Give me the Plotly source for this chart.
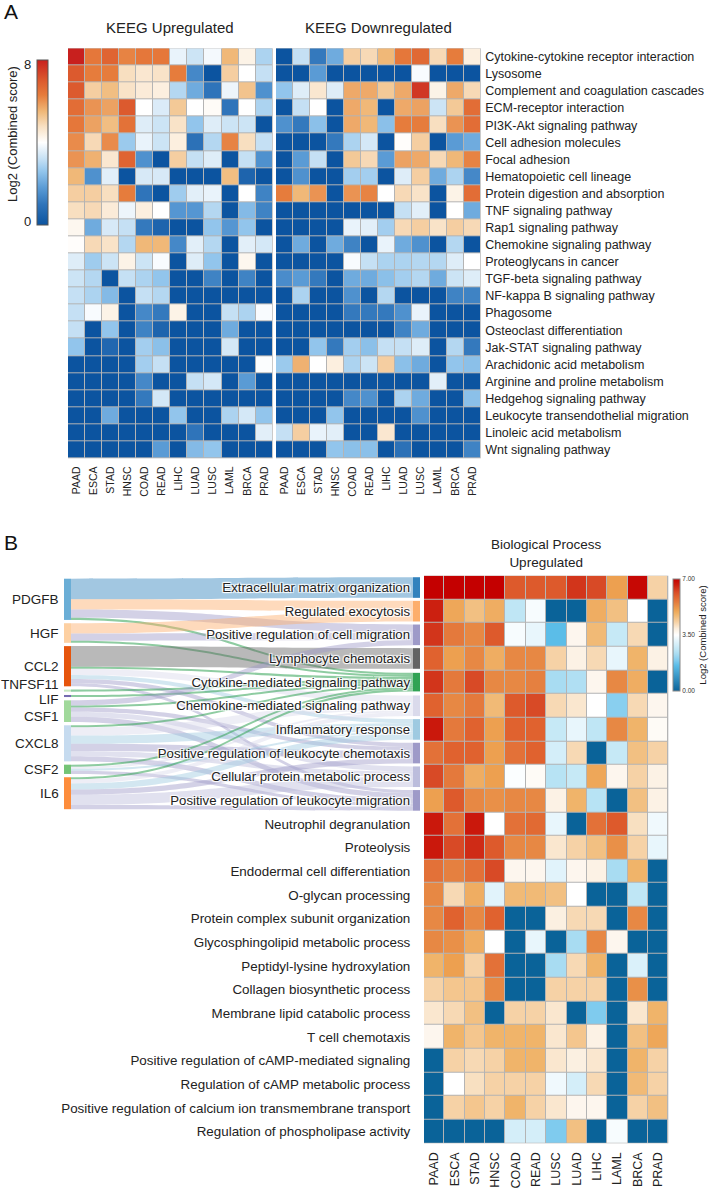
import plotly.graph_objects as go

# ---------------- data ----------------
cancers_A = ["PAAD", "ESCA", "STAD", "HNSC", "COAD", "READ", "LIHC", "LUAD", "LUSC", "LAML", "BRCA", "PRAD"]
pathways = [
    "Cytokine-cytokine receptor interaction", "Lysosome", "Complement and coagulation cascades",
    "ECM-receptor interaction", "PI3K-Akt signaling pathway", "Cell adhesion molecules",
    "Focal adhesion", "Hematopoietic cell lineage", "Protein digestion and absorption",
    "TNF signaling pathway", "Rap1 signaling pathway", "Chemokine signaling pathway",
    "Proteoglycans in cancer", "TGF-beta signaling pathway", "NF-kappa B signaling pathway",
    "Phagosome", "Osteoclast differentiation", "Jak-STAT signaling pathway",
    "Arachidonic acid metabolism", "Arginine and proline metabolism", "Hedgehog signaling pathway",
    "Leukocyte transendothelial migration", "Linoleic acid metabolism", "Wnt signaling pathway",
]
kegg_up = [
    [8.0, 6.4, 6.8, 6.2, 6.4, 6.4, 3.7, 3.3, 3.85, 5.5, 4.3, 2.9],
    [7.0, 6.3, 6.3, 4.8, 4.6, 4.7, 6.3, 1.4, 0, 5.1, 4.0, 3.2],
    [7.0, 5.1, 5.4, 4.7, 4.5, 4.4, 3.0, 2.1, 1.0, 3.75, 5.3, 1.6],
    [6.6, 6.0, 5.8, 7.0, 4.0, 3.5, 5.2, 4.0, 4.1, 1.0, 4.0, 2.9],
    [6.4, 5.8, 5.4, 6.5, 3.55, 3.3, 4.7, 2.6, 3.55, 3.3, 3.3, 0],
    [6.1, 4.9, 6.1, 2.7, 3.7, 3.3, 4.4, 0.9, 3.0, 6.2, 4.8, 3.2],
    [6.0, 5.6, 4.6, 6.8, 1.6, 0, 5.1, 3.2, 3.55, 0, 3.2, 1.6],
    [5.5, 1.6, 3.6, 0, 3.45, 3.45, 0, 0, 0, 5.4, 0.5, 0],
    [5.1, 5.1, 4.8, 6.3, 1.0, 0, 2.75, 3.6, 3.7, 0, 4.0, 1.3],
    [4.8, 4.9, 4.5, 3.75, 4.4, 4.0, 1.7, 1.7, 3.0, 0, 2.4, 1.3],
    [4.2, 2.1, 3.45, 3.2, 1.1, 0.5, 0, 0, 2.6, 1.7, 2.6, 0],
    [4.05, 4.9, 4.7, 3.0, 5.5, 5.5, 1.4, 3.6, 3.0, 0, 3.6, 3.4],
    [3.55, 2.75, 3.3, 4.3, 3.3, 3.9, 0, 3.55, 2.6, 0, 4.2, 0],
    [3.3, 3.0, 0, 3.2, 2.9, 2.6, 0, 0, 1.3, 0, 1.3, 0],
    [3.2, 2.9, 2.4, 0, 3.2, 3.0, 0, 0, 0, 0, 0, 0],
    [3.2, 3.9, 4.3, 0, 1.4, 1.1, 4.3, 0, 0, 3.2, 2.9, 3.9],
    [3.2, 0, 2.6, 0, 1.3, 0.5, 0, 0, 0, 2.1, 0, 0],
    [2.6, 0, 0.6, 0, 2.8, 2.5, 0, 0, 0, 3.4, 0, 0],
    [0, 0, 0, 0, 2.8, 3.2, 0, 0, 0, 0, 0, 3.95],
    [0, 0, 0, 0, 1.4, 0, 0, 3.2, 3.4, 0, 1.8, 0],
    [0, 0, 0, 0, 1.1, 3.4, 0, 0, 0, 0, 0, 0],
    [0, 0, 2.1, 0, 0, 0, 2.6, 0, 0, 2.9, 3.4, 2.6],
    [0, 0, 0, 0, 0, 0, 0, 1.0, 0, 0, 0, 3.6],
    [0, 0, 0, 0, 0, 1.8, 0, 2.4, 2.6, 0, 0, 0],
]
kegg_down = [
    [0, 3.2, 1.1, 2.1, 5.1, 4.9, 5.5, 6.4, 6.7, 4.9, 6.3, 4.4],
    [0, 0, 1.8, 0, 0, 0, 0, 0, 3.9, 0, 0, 0],
    [2.6, 3.55, 4.6, 3.55, 5.7, 5.7, 5.2, 5.7, 7.6, 4.3, 5.7, 4.9],
    [0, 3.2, 4.0, 0, 5.7, 5.5, 0, 5.7, 5.8, 3.3, 5.2, 6.6],
    [1.6, 1.1, 2.5, 0, 5.7, 5.5, 2.5, 6.3, 6.3, 4.8, 6.0, 6.6],
    [0, 0, 0, 1.1, 2.9, 3.4, 0, 4.05, 5.1, 0, 1.8, 2.1],
    [0, 1.8, 3.2, 0, 5.2, 4.9, 1.8, 5.8, 5.7, 4.9, 5.5, 6.2],
    [0, 1.6, 0, 0, 2.8, 2.8, 0, 3.55, 5.1, 2.1, 2.9, 1.4],
    [6.3, 5.5, 6.0, 0, 6.0, 6.2, 4.0, 4.9, 4.7, 0, 4.3, 6.6],
    [0, 0, 0, 0, 0, 0, 0, 3.2, 3.6, 0, 4.0, 2.1],
    [0, 0, 0, 0, 3.7, 3.6, 2.8, 4.9, 5.1, 4.7, 5.1, 4.9],
    [0, 2.1, 0, 2.1, 1.3, 0, 3.7, 2.1, 1.6, 0, 3.0, 0],
    [0, 0, 0, 0, 3.9, 3.2, 2.9, 2.9, 3.0, 3.0, 3.55, 4.0],
    [1.5, 1.8, 1.1, 0, 2.1, 2.1, 2.5, 2.8, 3.0, 2.1, 3.3, 3.55],
    [0, 2.9, 0, 0, 1.6, 0, 3.0, 0, 0, 0, 1.3, 1.3],
    [0, 0, 0, 0, 1.1, 1.1, 1.1, 1.6, 3.7, 0, 0, 0],
    [0, 0, 0, 0, 0, 0, 0, 1.3, 2.1, 0, 0, 0],
    [0, 0, 2.6, 1.1, 2.8, 2.5, 3.2, 3.2, 3.55, 0, 3.0, 1.1],
    [2.7, 5.6, 4.0, 4.4, 2.9, 3.3, 5.1, 2.5, 2.1, 0, 2.6, 2.5],
    [0, 0, 0, 0, 0, 0, 0, 0, 0, 3.6, 0, 0],
    [0, 0, 0, 0, 1.4, 1.6, 0, 2.9, 2.1, 0, 0, 2.5],
    [0, 0, 0, 2.6, 0, 0, 0, 0, 1.6, 0, 0, 0],
    [3.2, 5.1, 3.7, 3.6, 0, 0, 4.6, 0, 0, 0, 0, 0],
    [0, 0, 0, 2.6, 2.5, 2.5, 0, 0.9, 0, 0, 0, 1.3],
]

cancers_B = ["PAAD", "ESCA", "STAD", "HNSC", "COAD", "READ", "LUSC", "LUAD", "LIHC", "LAML", "BRCA", "PRAD"]
processes = [
    "Extracellular matrix organization", "Regulated exocytosis", "Positive regulation of cell migration",
    "Lymphocyte chemotaxis", "Cytokine-mediated signaling pathway", "Chemokine-mediated signaling pathway",
    "Inflammatory response", "Positive regulation of leukocyte chemotaxis", "Cellular protein metabolic process",
    "Positive regulation of leukocyte migration", "Neutrophil degranulation", "Proteolysis",
    "Endodermal cell differentiation", "O-glycan processing", "Protein complex subunit organization",
    "Glycosphingolipid metabolic process", "Peptidyl-lysine hydroxylation", "Collagen biosynthetic process",
    "Membrane lipid catabolic process", "T cell chemotaxis", "Positive regulation of cAMP-mediated signaling",
    "Regulation of cAMP metabolic process", "Positive regulation of calcium ion transmembrane transport",
    "Regulation of phospholipase activity",
]
bp_up = [
    [7.0, 7.0, 7.0, 7.0, 6.0, 6.0, 6.0, 6.4, 6.2, 5.1, 6.9, 4.3],
    [6.6, 5.0, 4.6, 4.9, 2.6, 3.4, 0, 0, 4.9, 4.6, 3.5, 0],
    [6.4, 5.6, 5.4, 6.0, 3.4, 3.2, 1.6, 3.7, 4.7, 2.7, 4.2, 0],
    [5.9, 5.1, 5.4, 4.9, 5.4, 5.4, 4.3, 3.8, 4.2, 3.2, 4.8, 3.8],
    [6.4, 5.6, 6.2, 5.4, 5.4, 5.5, 2.3, 2.4, 3.7, 5.4, 4.9, 0],
    [5.9, 5.4, 5.6, 4.7, 6.0, 6.2, 4.2, 4.0, 3.5, 2.0, 4.2, 3.7],
    [6.7, 5.6, 5.9, 5.1, 5.9, 5.9, 2.7, 3.2, 2.6, 5.4, 4.8, 3.6],
    [5.7, 5.9, 5.9, 5.1, 5.7, 5.9, 2.9, 4.2, 0, 2.7, 4.6, 4.3],
    [6.2, 5.6, 4.9, 5.1, 3.45, 3.6, 2.5, 2.7, 5.0, 3.7, 4.3, 3.8],
    [5.1, 6.0, 5.4, 5.3, 5.4, 5.4, 3.8, 4.8, 2.5, 0, 4.6, 3.8],
    [6.7, 5.7, 6.7, 3.5, 5.7, 5.8, 3.2, 0, 5.7, 6.0, 4.1, 3.3],
    [6.7, 6.2, 6.5, 6.0, 5.4, 5.4, 4.0, 4.3, 4.6, 5.3, 4.3, 3.2],
    [5.7, 5.5, 5.7, 6.2, 3.7, 3.7, 3.1, 3.7, 3.8, 2.3, 4.8, 0],
    [5.4, 4.2, 4.9, 3.1, 4.7, 4.7, 4.6, 3.5, 0, 0, 2.6, 0],
    [5.4, 5.9, 5.4, 5.9, 0, 0, 3.85, 4.2, 4.2, 0, 5.4, 0],
    [5.4, 5.3, 4.9, 3.5, 0, 3.2, 0, 2.3, 5.4, 3.7, 0, 0],
    [4.8, 5.1, 4.3, 5.7, 0, 0, 2.3, 4.2, 4.8, 0, 3.0, 0],
    [4.3, 4.5, 4.5, 5.4, 0, 0, 4.3, 4.3, 4.3, 0, 5.3, 0],
    [4.0, 4.2, 4.6, 0, 4.3, 4.3, 4.0, 0, 1.9, 0, 4.0, 4.8],
    [3.7, 4.8, 4.5, 4.8, 4.8, 4.8, 4.0, 4.5, 3.8, 0, 4.6, 5.0],
    [0, 4.3, 4.2, 4.3, 4.8, 4.8, 4.0, 3.85, 4.0, 0, 4.8, 4.3],
    [0, 3.5, 4.1, 4.3, 4.3, 4.3, 3.3, 2.9, 4.2, 0, 4.7, 4.3],
    [0, 4.3, 4.5, 4.3, 4.8, 4.3, 4.0, 3.7, 3.7, 0, 4.3, 4.6],
    [0, 0, 0, 0, 2.9, 2.9, 1.9, 4.6, 0, 3.4, 0, 0],
]

genes = ["PDGFB", "HGF", "CCL2", "TNFSF11", "LIF", "CSF1", "CXCL8", "CSF2", "IL6"]
gene_colors = ["#6baed6", "#fdd0a2", "#e6550d", "#c7e9c0", "#756bb1", "#a1d99b", "#c6dbef", "#74c476", "#fd8d3c"]
sankey_processes = processes[:10]
process_colors = ["#3182bd", "#fdae6b", "#9e9ac8", "#636363", "#31a354",
                  "#dadaeb", "#9ecae1", "#9e9ac8", "#bcbddc", "#9e9ac8"]
link_gene = ["PDGFB", "PDGFB", "PDGFB", "PDGFB",
             "HGF", "HGF", "HGF",
             "CCL2", "CCL2", "CCL2", "CCL2", "CCL2", "CCL2",
             "TNFSF11", "LIF",
             "CSF1", "CSF1", "CSF1", "CSF1", "CSF1",
             "CXCL8", "CXCL8", "CXCL8", "CXCL8", "CXCL8", "CXCL8",
             "CSF2", "CSF2", "CSF2", "CSF2",
             "IL6", "IL6", "IL6", "IL6", "IL6", "IL6"]
link_process = [0, 1, 2, 4,
                1, 2, 4,
                3, 4, 5, 6, 7, 9,
                4, 4,
                4, 2, 7, 8, 9,
                4, 5, 6, 7, 8, 9,
                4, 5, 6, 9,
                4, 5, 6, 7, 8, 9]
link_value = [20, 10, 8, 2,
              10, 7, 2,
              20, 2, 6, 4, 4, 3,
              2, 2,
              2, 5, 4, 5, 5,
              2, 8, 8, 7, 5, 5,
              2, 2, 2, 3,
              2, 4, 6, 5, 10, 4]

# ---------------- styling / layout helpers ----------------
W, H = 709, 1191
FONT = "Liberation Sans, Arial, sans-serif"


def fx(px):
    return px / W


def fy(px):
    return 1 - px / H


def rgba(hexc, a):
    h = hexc.lstrip("#")
    return "rgba(%d,%d,%d,%.2f)" % (int(h[0:2], 16), int(h[2:4], 16), int(h[4:6], 16), a)


scale_A = [[0.0, "#0c54a0"], [0.125, "#2f74ba"], [0.225, "#5a9bd5"], [0.325, "#92c5ec"],
           [0.4, "#c5e0f4"], [0.45, "#e2eff9"], [0.5, "#ffffff"], [0.6, "#f8dfc0"],
           [0.6875, "#f0b878"], [0.7875, "#e67c3c"], [0.875, "#dc5a2e"], [1.0, "#c8201e"]]
scale_B = [[0.0, "#0a6399"], [0.2286, "#5bbde8"], [0.271, "#7fcbee"], [0.329, "#a8dcf2"],
           [0.371, "#bfe6f5"], [0.457, "#e8f6fc"], [0.5, "#ffffff"], [0.557, "#fbeedd"],
           [0.614, "#f6d2a6"], [0.686, "#f0b46a"], [0.729, "#eda050"], [0.786, "#e58040"],
           [0.843, "#e0622f"], [0.886, "#d84a26"], [0.943, "#cc2010"], [1.0, "#c40000"]]

# pixel geometry
A_top, A_bot = 48.3, 458.3
A1_l, A1_r = 68.0, 272.7
A2_l, A2_r = 276.0, 480.7
B_top, B_bot = 575.7, 1143.3
B_l, B_r = 424.0, 668.3
row_B = (B_bot - B_top) / len(processes)
SK_top = B_top
SK_bot = B_top + row_B * len(sankey_processes)
SK_l, SK_r = 63.9, 420.0
node_th = 7
node_pad = 3.6
gene_label_nudge = [0, 0, 0, -6, 3, 5, 0, 0, 0]   # px, to keep small labels apart

fig = go.Figure()

rows_idx = list(range(len(pathways)))
cols_idx = list(range(len(cancers_A)))

fig.add_trace(go.Heatmap(
    z=kegg_up, x=cols_idx, y=rows_idx, zmin=0, zmax=8, colorscale=scale_A,
    xgap=1, ygap=1, hoverinfo="skip", xaxis="x", yaxis="y",
    colorbar=dict(x=fx(36.7), xanchor="left", y=fy(60), yanchor="top",
                  lenmode="pixels", len=165, thicknessmode="pixels", thickness=11,
                  xpad=0, ypad=0, outlinewidth=1, outlinecolor="#555555",
                  showticklabels=False, ticks=""),
))
fig.add_trace(go.Heatmap(
    z=kegg_down, x=cols_idx, y=rows_idx, zmin=0, zmax=8, colorscale=scale_A,
    xgap=1, ygap=1, hoverinfo="skip", showscale=False, xaxis="x2", yaxis="y2",
))
rows_B = list(range(len(processes)))
fig.add_trace(go.Heatmap(
    z=bp_up, x=list(range(len(cancers_B))), y=rows_B, zmin=0, zmax=7, colorscale=scale_B,
    xgap=1, ygap=1, hoverinfo="skip", xaxis="x3", yaxis="y3",
    colorbar=dict(x=fx(672.7), xanchor="left", y=fy(579), yanchor="top",
                  lenmode="pixels", len=111.7, thicknessmode="pixels", thickness=7,
                  xpad=0, ypad=0, outlinewidth=1, outlinecolor="#888888",
                  tickvals=[0, 3.5, 7], tickformat=".2f", ticks="",
                  tickfont=dict(size=6.5, color="#333", family=FONT),
                  title=dict(text="Log2 (Combined score)", side="right",
                             font=dict(size=9.5, color="#222", family=FONT))),
))

# ---- sankey ----
n_g = len(genes)
src = [genes.index(g) for g in link_gene]
tgt = [n_g + p for p in link_process]
gene_tot = [sum(v for g, v in zip(link_gene, link_value) if g == name) for name in genes]
proc_tot = [sum(v for p, v in zip(link_process, link_value) if p == i) for i in range(len(sankey_processes))]
Hs = SK_bot - SK_top
Ws = SK_r - SK_l
ky = min((Hs - (len(gene_tot) - 1) * node_pad) / sum(gene_tot),
         (Hs - (len(proc_tot) - 1) * node_pad) / sum(proc_tot))
edge = 3.0
gap = (Hs - ky * sum(gene_tot) - 2 * edge) / (n_g - 1)
gene_y = []
acc = edge
for t in gene_tot:
    h = t * ky
    gene_y.append((acc + h / 2) / Hs)
    acc += h + gap
proc_y = [(i + 0.5) / len(sankey_processes) for i in range(len(sankey_processes))]
x_left = (67.5 - SK_l) / Ws
x_right = (416.5 - SK_l) / Ws

fig.add_trace(go.Sankey(
    domain=dict(x=[fx(SK_l), fx(SK_r)], y=[fy(SK_bot), fy(SK_top)]),
    arrangement="fixed",
    hoverinfo="skip",
    node=dict(
        label=[""] * n_g + sankey_processes,
        color=gene_colors + process_colors,
        x=[x_left] * n_g + [x_right] * len(sankey_processes),
        y=gene_y + proc_y,
        thickness=node_th, pad=node_pad,
        line=dict(width=0),
        hoverinfo="skip",
    ),
    link=dict(
        source=src, target=tgt, value=link_value,
        color=[rgba(process_colors[p], 0.45 if p != 4 else 0.55) for p in link_process],
        hoverinfo="skip",
    ),
    textfont=dict(family=FONT, size=13.2, color="#222222"),
))

PAPER = dict(xref="paper", yref="paper", showarrow=False)
ann = []
for g, yy, dn in zip(genes, gene_y, gene_label_nudge):
    ann.append(dict(text=g, x=fx(61), xanchor="right", y=fy(SK_top + yy * Hs + dn), yanchor="middle",
                    font=dict(family=FONT, size=13.5, color="#222"), **PAPER))

ann += [
    dict(text="A", x=fx(2), xanchor="left", y=fy(12), yanchor="middle",
         font=dict(family=FONT, size=21, color="#111"), **PAPER),
    dict(text="B", x=fx(2), xanchor="left", y=fy(542), yanchor="middle",
         font=dict(family=FONT, size=21, color="#111"), **PAPER),
    dict(text="KEEG Upregulated", x=fx((A1_l + A1_r) / 2), xanchor="center", y=fy(27), yanchor="middle",
         font=dict(family=FONT, size=15, color="#222"), **PAPER),
    dict(text="KEEG Downregulated", x=fx((A2_l + A2_r) / 2), xanchor="center", y=fy(27), yanchor="middle",
         font=dict(family=FONT, size=15, color="#222"), **PAPER),
    dict(text="Biological Process<br>Upregulated", x=fx((B_l + B_r) / 2), xanchor="center", y=fy(553),
         yanchor="middle", font=dict(family=FONT, size=13.5, color="#222"), **PAPER),
    dict(text="8", x=fx(33), xanchor="right", y=fy(64), yanchor="middle",
         font=dict(family=FONT, size=13, color="#222"), **PAPER),
    dict(text="0", x=fx(33), xanchor="right", y=fy(221), yanchor="middle",
         font=dict(family=FONT, size=13, color="#222"), **PAPER),
    dict(text="Log2 (Combined score)", x=fx(12), xanchor="center", y=fy(134), yanchor="middle",
         textangle=-90, font=dict(family=FONT, size=13, color="#222"), **PAPER),
]

axis_common = dict(showgrid=False, zeroline=False, showline=False)
fig.update_layout(
    width=W, height=H,
    margin=dict(l=0, r=0, t=0, b=0, autoexpand=False),
    paper_bgcolor="white", plot_bgcolor="#b4b4b4",
    font=dict(family=FONT, color="#222"),
    showlegend=False,
    annotations=ann,
    xaxis=dict(domain=[fx(A1_l), fx(A1_r)], anchor="y", tickvals=cols_idx, ticktext=cancers_A,
               tickangle=-90, ticks="outside", ticklen=3, tickcolor="rgba(0,0,0,0)",
               tickfont=dict(size=10.5, family=FONT, color="#222"), range=[-0.5, 11.5], **axis_common),
    yaxis=dict(domain=[fy(A_bot), fy(A_top)], anchor="x", range=[23.5, -0.5],
               showticklabels=False, ticks="", **axis_common),
    xaxis2=dict(domain=[fx(A2_l), fx(A2_r)], anchor="y2", tickvals=cols_idx, ticktext=cancers_A,
                tickangle=-90, ticks="outside", ticklen=3, tickcolor="rgba(0,0,0,0)",
                tickfont=dict(size=10.5, family=FONT, color="#222"), range=[-0.5, 11.5], **axis_common),
    yaxis2=dict(domain=[fy(A_bot), fy(A_top)], anchor="x2", range=[23.5, -0.5], side="right",
                tickvals=rows_idx, ticktext=pathways, ticks="outside", ticklen=1,
                tickcolor="rgba(0,0,0,0)", tickfont=dict(size=12.5, family=FONT, color="#222"),
                **axis_common),
    xaxis3=dict(domain=[fx(B_l), fx(B_r)], anchor="y3", tickvals=list(range(len(cancers_B))),
                ticktext=cancers_B, tickangle=-90, ticks="outside", ticklen=3,
                tickcolor="rgba(0,0,0,0)", tickfont=dict(size=12.5, family=FONT, color="#222"),
                range=[-0.5, 11.5], **axis_common),
    yaxis3=dict(domain=[fy(B_bot), fy(B_top)], anchor="x3", range=[23.5, -0.5],
                tickvals=rows_B[10:], ticktext=processes[10:], ticks="outside", ticklen=10,
                tickcolor="rgba(0,0,0,0)", tickfont=dict(size=13.4, family=FONT, color="#222"),
                **axis_common),
)

fig.write_html("out.html", config={"displayModeBar": False, "staticPlot": False},
               post_script="document.body.style.margin='0';document.body.style.overflow='hidden';")
